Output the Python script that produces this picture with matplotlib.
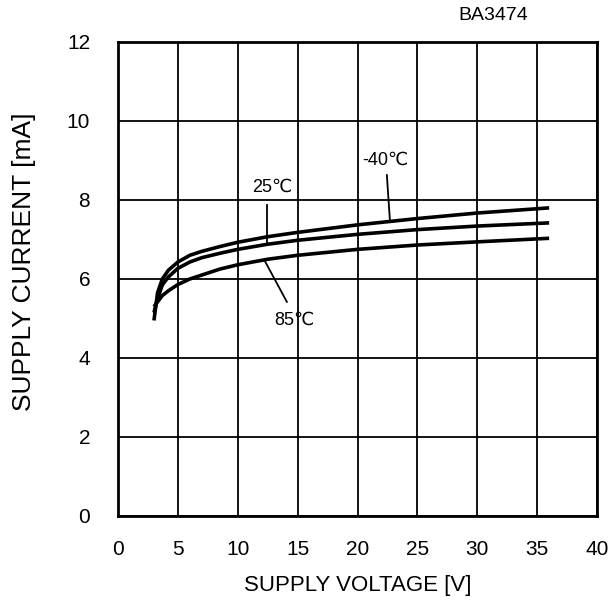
import matplotlib
matplotlib.use('Agg')
import matplotlib.pyplot as plt

plt.rcParams['font.family'] = ['Liberation Sans', 'DejaVu Sans']

# supply voltage [V]
voltage = [3, 3.3, 3.7, 4.2, 5, 6, 7, 8.5, 10, 12.5, 15, 20, 25, 30, 36]
# supply current [mA] per temperature
cur_m40 = [4.95, 5.65, 6.0, 6.22, 6.43, 6.6, 6.7, 6.82, 6.93, 7.07, 7.18, 7.37, 7.53, 7.67, 7.8]
cur_25 = [5.15, 5.5, 5.85, 6.05, 6.27, 6.43, 6.54, 6.65, 6.75, 6.88, 6.98, 7.13, 7.25, 7.34, 7.42]
cur_85 = [5.3, 5.42, 5.58, 5.7, 5.86, 6.0, 6.1, 6.25, 6.36, 6.5, 6.6, 6.75, 6.86, 6.94, 7.03]

fig = plt.figure(figsize=(6.16, 6.12), dpi=100)
ax = fig.add_axes([0.1916, 0.1569, 0.7776, 0.7745])

for cur in [cur_m40, cur_25, cur_85]:
    ax.plot(voltage, cur, color='black', lw=2.6, solid_capstyle='butt')

ax.set_xlim(0, 40)
ax.set_ylim(0, 12)
ax.set_xticks(range(0, 41, 5))
ax.set_yticks(range(0, 13, 2))
ax.grid(True, color='black', lw=1.3)
ax.tick_params(length=0, labelsize=15)
ax.tick_params(axis='x', pad=17)
ax.tick_params(axis='y', pad=20)
for s in ax.spines.values():
    s.set_linewidth(2)

ax.set_xlabel('SUPPLY VOLTAGE [V]', fontsize=16)
ax.set_ylabel('SUPPLY CURRENT [mA]', fontsize=19)
ax.xaxis.set_label_coords(0.5, -0.125)
ax.yaxis.set_label_coords(-0.172, 0.536)

# temperature labels with leader lines
ax.text(22.3, 8.8, '-40℃', fontsize=13, ha='center', va='bottom')
ax.plot([22.45, 22.7], [8.63, 7.5], color='black', lw=1.3)
ax.text(12.9, 8.1, '25℃', fontsize=13, ha='center', va='bottom')
ax.plot([12.45, 12.45], [7.87, 6.9], color='black', lw=1.3)
ax.text(14.7, 4.96, '85℃', fontsize=13, ha='center', va='center')
ax.plot([12.27, 14.1], [6.45, 5.42], color='black', lw=1.3)

fig.text(493 / 616, 1 - 15 / 612, 'BA3474', fontsize=14, ha='center', va='center')

fig.savefig('out.png', dpi=100)
